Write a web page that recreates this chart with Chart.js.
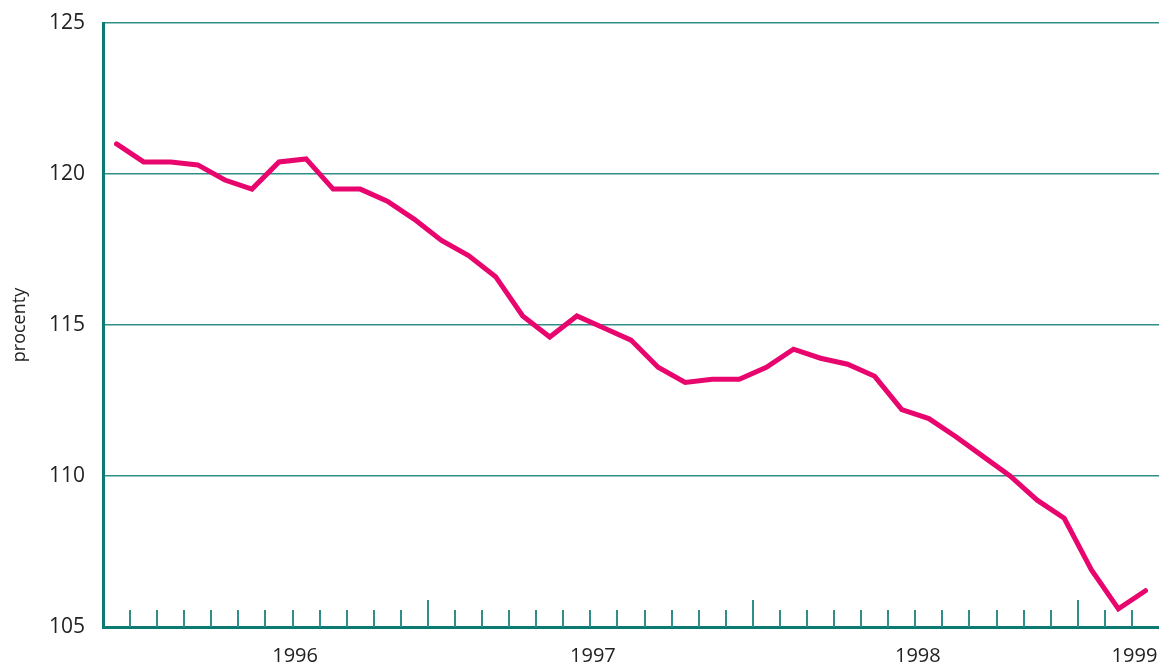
<!DOCTYPE html>
<html>
<head>
<meta charset="utf-8">
<script src="https://cdn.jsdelivr.net/npm/chart.js@4/dist/chart.umd.min.js"></script>
<style>
  html, body { margin: 0; padding: 0; background: #fff; }
  #wrap { width: 1159px; height: 668px; }
</style>
</head>
<body>
<div id="wrap"><canvas id="chart"></canvas></div>
<script>
// monthly index, Jan 1996 - Mar 1999
const months = [
  '1996-01','1996-02','1996-03','1996-04','1996-05','1996-06','1996-07','1996-08','1996-09','1996-10','1996-11','1996-12',
  '1997-01','1997-02','1997-03','1997-04','1997-05','1997-06','1997-07','1997-08','1997-09','1997-10','1997-11','1997-12',
  '1998-01','1998-02','1998-03','1998-04','1998-05','1998-06','1998-07','1998-08','1998-09','1998-10','1998-11','1998-12',
  '1999-01','1999-02','1999-03'
];
const values = [
  121.0, 120.4, 120.4, 120.3, 119.8, 119.5, 120.4, 120.5, 119.5, 119.5, 119.1, 118.5,
  117.8, 117.3, 116.6, 115.3, 114.6, 115.3, 114.9, 114.5, 113.6, 113.1, 113.2, 113.2,
  113.6, 114.2, 113.9, 113.7, 113.3, 112.2, 111.9, 111.3, 110.65, 110.0, 109.2, 108.6,
  106.9, 105.6, 106.2
];
// where the year names sit on the month axis
const yearLabelAt = { 7: '1996', 18: '1997', 30: '1998', 38: '1999' };
const yTicks = [105, 110, 115, 120, 125];

const teal = '#0b7a73';
const gridTeal = '#2f8f88';

// small tick marks pointing up into the plot, longer at year changes
const innerTicks = {
  id: 'innerTicks',
  afterDatasetsDraw(chart) {
    const x = chart.scales.x, ctx = chart.ctx;
    const bottom = chart.chartArea.bottom;
    ctx.save();
    ctx.strokeStyle = gridTeal;
    ctx.lineWidth = 2;
    for (let i = 1; i < months.length; i++) {
      const px = Math.round((x.getPixelForValue(i - 1) + x.getPixelForValue(i)) / 2);
      const newYear = months[i].slice(0, 4) !== months[i - 1].slice(0, 4);
      const len = newYear ? 27 : 17;
      ctx.beginPath();
      ctx.moveTo(px, bottom);
      ctx.lineTo(px, bottom - len);
      ctx.stroke();
    }
    ctx.restore();
  }
};

new Chart(document.getElementById('chart'), {
  type: 'line',
  data: {
    labels: months,
    datasets: [{
      data: values,
      borderColor: '#e8066e',
      borderWidth: 5,
      pointRadius: 0,
      tension: 0,
      borderCapStyle: 'round',
      borderJoinStyle: 'miter'
    }]
  },
  options: {
    responsive: true,
    maintainAspectRatio: false,
    animation: false,
    layout: { padding: { top: 23, right: 0, left: 0, bottom: 0 } },
    plugins: { legend: { display: false }, tooltip: { enabled: false } },
    scales: {
      x: {
        offset: true,
        grid: { display: false },
        border: { display: true, color: teal, width: 3 },
        ticks: {
          autoSkip: false,
          maxRotation: 0,
          padding: 9,
          labelOffset: -11,
          color: '#222',
          font: { family: 'Open Sans', size: 20 },
          callback: (v, i) => yearLabelAt[i] || ''
        },
        afterFit(s) { s.height = 41; s.paddingLeft = 0; s.paddingRight = 0; }
      },
      y: {
        min: 105,
        max: 125,
        afterBuildTicks(s) { s.ticks = yTicks.map(v => ({ value: v })); },
        grid: {
          color: ctx => ctx.tick && ctx.tick.value === 105 ? 'rgba(0,0,0,0)' : gridTeal,
          lineWidth: 1.5,
          drawTicks: false
        },
        border: { display: true, color: teal, width: 3 },
        ticks: {
          padding: 18,
          color: '#222',
          font: { family: 'Open Sans', size: 21 }
        },
        title: {
          display: true,
          text: 'procenty',
          color: '#222',
          font: { family: 'Open Sans', size: 18 },
          padding: { top: 9, bottom: 0 }
        },
        afterFit(s) { s.width = 103; s.paddingTop = 0; s.paddingBottom = 0; }
      }
    }
  },
  plugins: [innerTicks]
});
</script>
</body>
</html>
